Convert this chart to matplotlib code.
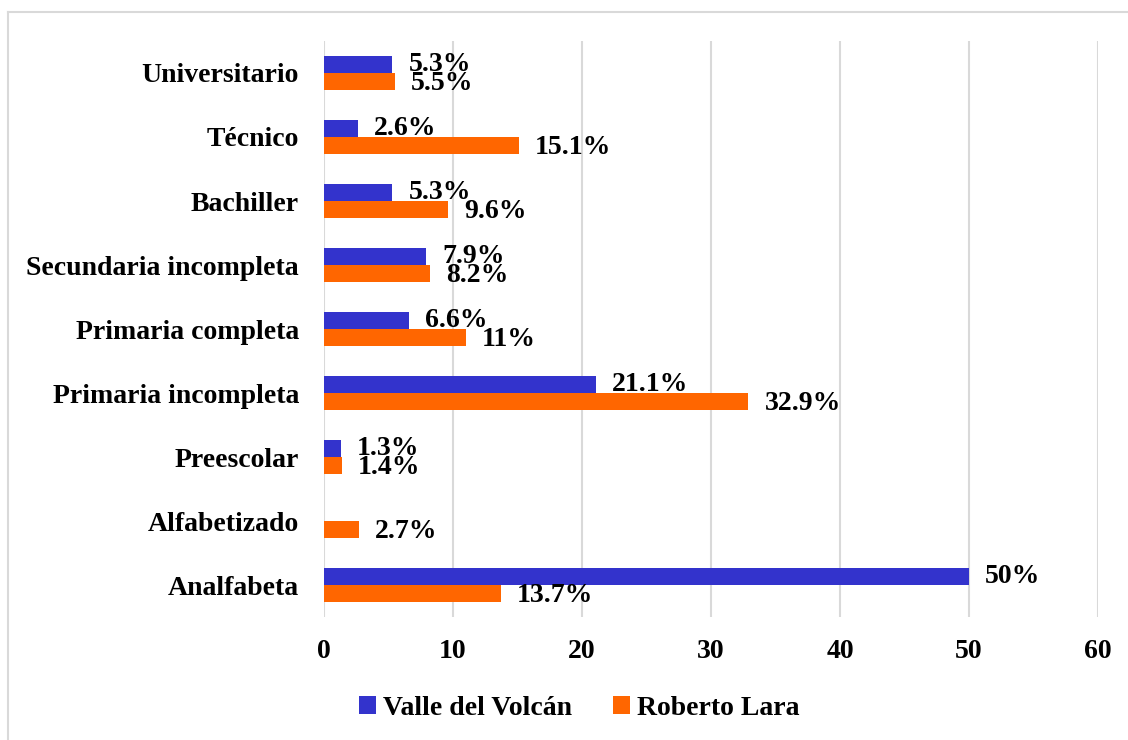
import matplotlib.pyplot as plt
import numpy as np
from matplotlib.lines import Line2D

plt.rcParams['font.family'] = ['Liberation Serif', 'DejaVu Serif']
plt.rcParams['font.weight'] = 'bold'

categorias = ['Analfabeta', 'Alfabetizado', 'Preescolar', 'Primaria incompleta',
              'Primaria completa', 'Secundaria incompleta', 'Bachiller',
              'Técnico', 'Universitario']
valle = [50, 0, 1.3, 21.1, 6.6, 7.9, 5.3, 2.6, 5.3]
roberto = [13.7, 2.7, 1.4, 32.9, 11, 8.2, 9.6, 15.1, 5.5]
etiq_valle = ['50%', '', '1.3%', '21.1%', '6.6%', '7.9%', '5.3%', '2.6%', '5.3%']
etiq_roberto = ['13.7%', '2.7%', '1.4%', '32.9%', '11%', '8.2%', '9.6%', '15.1%', '5.5%']

azul = '#3333CC'
naranja = '#FF6600'
fs = 20

fig = plt.figure(figsize=(11.28, 7.4), dpi=100)
ax = fig.add_axes([0.2872, 0.1662, 0.9734 - 0.2872, 0.9446 - 0.1662])

y = np.arange(len(categorias))
h = 0.266
b1 = ax.barh(y + h / 2, valle, height=h, color=azul, label='Valle del Volcán', zorder=3)
b2 = ax.barh(y - h / 2, roberto, height=h, color=naranja, label='Roberto Lara', zorder=3)

for rect, t in zip(b1, etiq_valle):
    if t:
        ax.annotate(t, (rect.get_width(), rect.get_y() + rect.get_height() / 2),
                    xytext=(16, 0), textcoords='offset pixels', va='center', ha='left',
                    fontsize=fs, fontweight='bold', zorder=4)
for rect, t in zip(b2, etiq_roberto):
    ax.annotate(t, (rect.get_width(), rect.get_y() + rect.get_height() / 2),
                xytext=(16, -2), textcoords='offset pixels', va='center', ha='left',
                fontsize=fs, fontweight='bold', zorder=4)

ax.set_xlim(0, 60)
ax.set_ylim(-0.5, len(categorias) - 0.5)
ax.set_xticks(range(0, 61, 10))
ax.set_yticks(y)
ax.set_yticklabels(categorias)
ax.tick_params(axis='both', length=0, labelsize=fs)
ax.tick_params(axis='x', pad=16)
ax.tick_params(axis='y', pad=18)
ax.grid(axis='x', color='#d9d9d9', linewidth=1.5, zorder=0)
for s in ax.spines.values():
    s.set_visible(False)

ax.legend(loc='center', bbox_to_anchor=(0.330, -0.158),
          ncol=2, frameon=False, prop={'size': fs, 'weight': 'bold'},
          handlelength=0.6, handleheight=0.6, handletextpad=0.25, columnspacing=1.5)

# marco exterior
fig.add_artist(Line2D([8 / 1128, 8 / 1128], [0, 1 - 12 / 740], color='#d9d9d9', linewidth=1.5,
                      transform=fig.transFigure))
fig.add_artist(Line2D([8 / 1128, 1], [1 - 12 / 740, 1 - 12 / 740], color='#d9d9d9', linewidth=1.5,
                      transform=fig.transFigure))

fig.savefig('out.png', dpi=100)
